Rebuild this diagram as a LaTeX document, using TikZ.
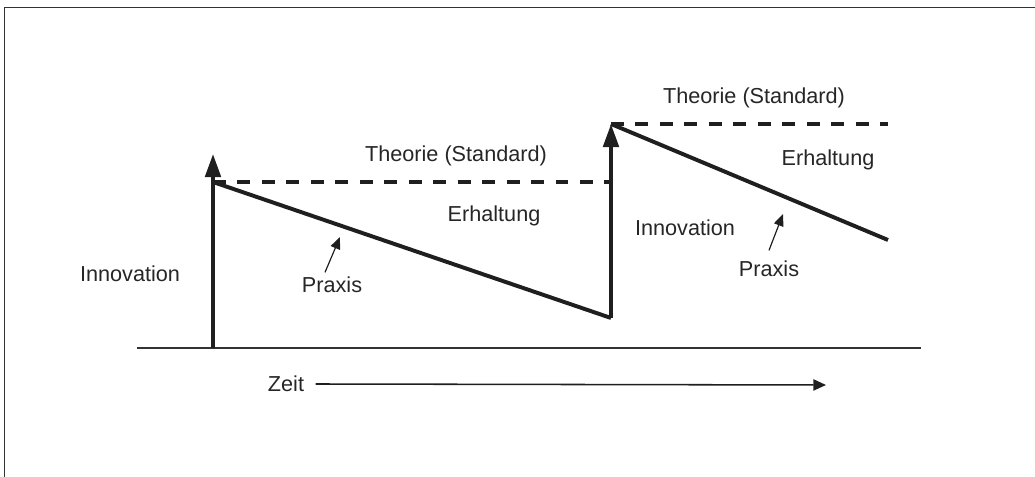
\documentclass[tikz,border=0pt]{standalone}
\usepackage{fontspec}
\setmainfont{Liberation Sans}
\usetikzlibrary{arrows.meta}
\tikzset{
  curvelabel/.style={
    font=\fontsize{15.4}{18}\selectfont, text=black!85, inner sep=1pt
  },
  curveline/.style={line width=2.8pt, color=black!88},
  standardline/.style={line width=2.8pt, color=black!88, dash pattern=on 9.2pt off 8.2pt},
  jumparrow/.style={
    -{Triangle[length=16.5pt, width=11pt]}, line width=2.8pt, color=black!88
  },
  pointerarrow/.style={
    -{Triangle[length=8.5pt, width=7pt]}, line width=0.85pt, color=black!88
  },
  timearrow/.style={
    -{Triangle[length=9pt, width=8pt]}, line width=1.1pt, color=black!88
  },
}
\begin{document}
\begin{tikzpicture}[x=0.025cm, y=-0.025cm]
  \useasboundingbox (0,0) rectangle (1035,477);

  % ── Frame ──
  \draw[line width=1.1pt, color=black!80] (4.5,477) -- (4.5,7.5) -- (1035,7.5);

  % ── Points of the curve ──
  \coordinate (start) at (213,348);
  \coordinate (theory1) at (213,182);
  \coordinate (jump1) at (213,154);
  \coordinate (low1) at (611,318);
  \coordinate (theory2) at (611,124);
  \coordinate (standard1end) at (611,182);
  \coordinate (standard2end) at (888,124);
  \coordinate (low2) at (888,240);
  \coordinate (axisleft) at (137,348);
  \coordinate (axisright) at (921,348);

  % ── Time axis ──
  \draw[line width=1.3pt, color=black!80] (axisleft) -- (axisright);

  % ── Standards (dashed) ──
  \draw[standardline] (theory1) -- (standard1end);
  \draw[standardline] (theory2) -- (standard2end);

  % ── Innovation jumps and practice ──
  \draw[jumparrow] (start) -- (jump1);
  \draw[curveline] (theory1) -- (low1);
  \draw[jumparrow] (low1) -- (theory2);
  \draw[curveline] (theory2) -- (low2);

  % ── Labels ──
  \node[curvelabel] (theorie1) at (456,156) {Theorie (Standard)};
  \node[curvelabel] (theorie2) at (754,98) {Theorie (Standard)};
  \node[curvelabel] (erhaltung1) at (494,216) {Erhaltung};
  \node[curvelabel] (erhaltung2) at (828,160) {Erhaltung};
  \node[curvelabel] (innovation1) at (130,274) {Innovation};
  \node[curvelabel] (innovation2) at (685,228) {Innovation};
  \node[curvelabel] (praxis1) at (332,285) {Praxis};
  \node[curvelabel] (praxis2) at (769,269) {Praxis};
  \node[curvelabel] (zeit) at (286,384) {Zeit};

  % ── Pointers to the practice lines ──
  \coordinate (praxis1tip) at (340,237);
  \coordinate (praxis2tip) at (783,214);
  \draw[pointerarrow] ([shift={(-7,-3)}]praxis1.north) -- (praxis1tip);
  \draw[pointerarrow] ([shift={(0,-9)}]praxis2.north) -- (praxis2tip);

  % ── Time arrow ──
  \coordinate (zeitend) at (826,385);
  \draw[timearrow] ([xshift=7]zeit.east) -- (zeitend);
\end{tikzpicture}
\end{document}
